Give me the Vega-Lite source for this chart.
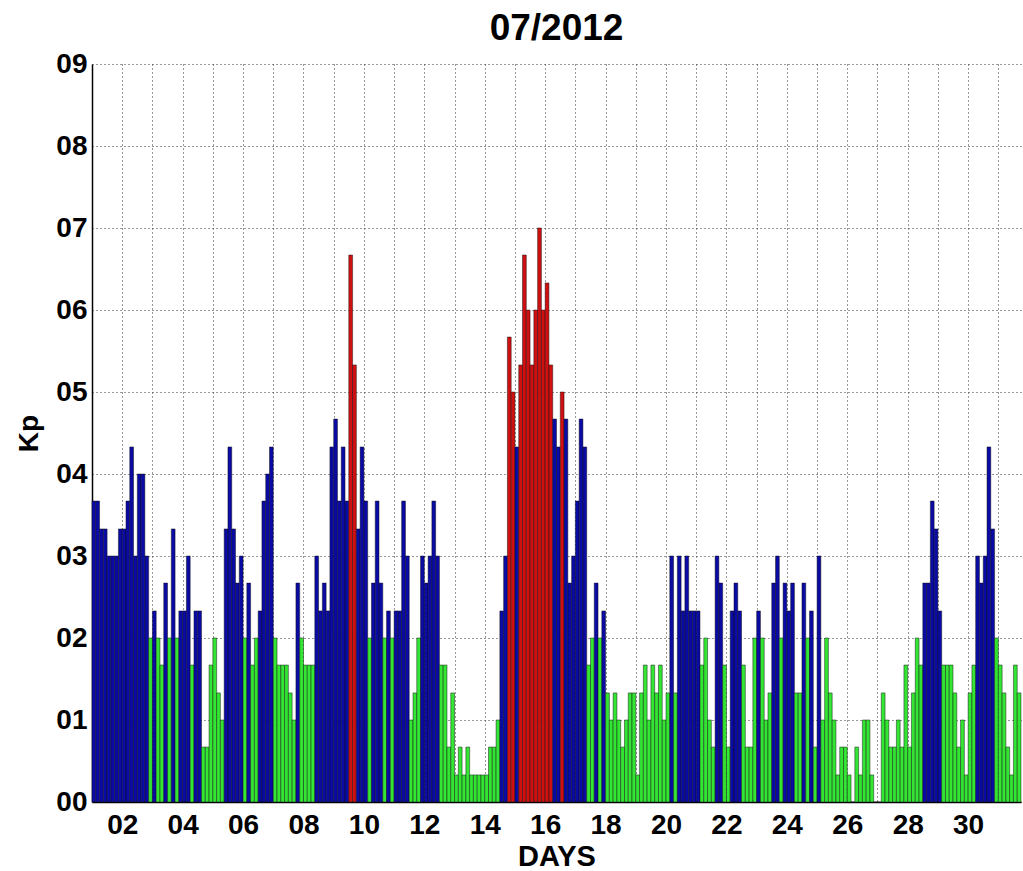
{
"$schema":"https://vega.github.io/schema/vega-lite/v6.json",
"width":929,"height":738,
"autosize":{"type":"none"},
"padding":{"left":92,"top":64,"right":2,"bottom":69},
"background":"white",
"title":{"text":"07/2012","font":"Liberation Sans","fontSize":37,"fontWeight":"bold","color":"#000","offset":2,"anchor":"middle"},
"data":{"values":[
{"t":1,"e":1.125,"kp":3.67},{"t":1.125,"e":1.25,"kp":3.67},{"t":1.25,"e":1.375,"kp":3.33},{"t":1.375,"e":1.5,"kp":3.33},{"t":1.5,"e":1.625,"kp":3},{"t":1.625,"e":1.75,"kp":3},{"t":1.75,"e":1.875,"kp":3},{"t":1.875,"e":2,"kp":3.33},
{"t":2,"e":2.125,"kp":3.33},{"t":2.125,"e":2.25,"kp":3.67},{"t":2.25,"e":2.375,"kp":4.33},{"t":2.375,"e":2.5,"kp":3},{"t":2.5,"e":2.625,"kp":4},{"t":2.625,"e":2.75,"kp":4},{"t":2.75,"e":2.875,"kp":3},{"t":2.875,"e":3,"kp":2},
{"t":3,"e":3.125,"kp":2.33},{"t":3.125,"e":3.25,"kp":2},{"t":3.25,"e":3.375,"kp":1.67},{"t":3.375,"e":3.5,"kp":2.67},{"t":3.5,"e":3.625,"kp":2},{"t":3.625,"e":3.75,"kp":3.33},{"t":3.75,"e":3.875,"kp":2},{"t":3.875,"e":4,"kp":2.33},
{"t":4,"e":4.125,"kp":2.33},{"t":4.125,"e":4.25,"kp":3},{"t":4.25,"e":4.375,"kp":1.67},{"t":4.375,"e":4.5,"kp":2.33},{"t":4.5,"e":4.625,"kp":2.33},{"t":4.625,"e":4.75,"kp":0.67},{"t":4.75,"e":4.875,"kp":0.67},{"t":4.875,"e":5,"kp":1.67},
{"t":5,"e":5.125,"kp":2},{"t":5.125,"e":5.25,"kp":1.33},{"t":5.25,"e":5.375,"kp":1},{"t":5.375,"e":5.5,"kp":3.33},{"t":5.5,"e":5.625,"kp":4.33},{"t":5.625,"e":5.75,"kp":3.33},{"t":5.75,"e":5.875,"kp":2.67},{"t":5.875,"e":6,"kp":3},
{"t":6,"e":6.125,"kp":2},{"t":6.125,"e":6.25,"kp":2.67},{"t":6.25,"e":6.375,"kp":1.67},{"t":6.375,"e":6.5,"kp":2},{"t":6.5,"e":6.625,"kp":2.33},{"t":6.625,"e":6.75,"kp":3.67},{"t":6.75,"e":6.875,"kp":4},{"t":6.875,"e":7,"kp":4.33},
{"t":7,"e":7.125,"kp":2},{"t":7.125,"e":7.25,"kp":1.67},{"t":7.25,"e":7.375,"kp":1.67},{"t":7.375,"e":7.5,"kp":1.67},{"t":7.5,"e":7.625,"kp":1.33},{"t":7.625,"e":7.75,"kp":1},{"t":7.75,"e":7.875,"kp":2.67},{"t":7.875,"e":8,"kp":2},
{"t":8,"e":8.125,"kp":1.67},{"t":8.125,"e":8.25,"kp":1.67},{"t":8.25,"e":8.375,"kp":1.67},{"t":8.375,"e":8.5,"kp":3},{"t":8.5,"e":8.625,"kp":2.33},{"t":8.625,"e":8.75,"kp":2.67},{"t":8.75,"e":8.875,"kp":2.33},{"t":8.875,"e":9,"kp":4.33},
{"t":9,"e":9.125,"kp":4.67},{"t":9.125,"e":9.25,"kp":3.67},{"t":9.25,"e":9.375,"kp":4.33},{"t":9.375,"e":9.5,"kp":3.67},{"t":9.5,"e":9.625,"kp":6.67},{"t":9.625,"e":9.75,"kp":5.33},{"t":9.75,"e":9.875,"kp":3.33},{"t":9.875,"e":10,"kp":4.33},
{"t":10,"e":10.125,"kp":3.67},{"t":10.125,"e":10.25,"kp":2},{"t":10.25,"e":10.375,"kp":2.67},{"t":10.375,"e":10.5,"kp":3.67},{"t":10.5,"e":10.625,"kp":2.67},{"t":10.625,"e":10.75,"kp":2},{"t":10.75,"e":10.875,"kp":2.33},{"t":10.875,"e":11,"kp":2},
{"t":11,"e":11.125,"kp":2.33},{"t":11.125,"e":11.25,"kp":2.33},{"t":11.25,"e":11.375,"kp":3.67},{"t":11.375,"e":11.5,"kp":3},{"t":11.5,"e":11.625,"kp":1},{"t":11.625,"e":11.75,"kp":1.33},{"t":11.75,"e":11.875,"kp":2},{"t":11.875,"e":12,"kp":3},
{"t":12,"e":12.125,"kp":2.67},{"t":12.125,"e":12.25,"kp":3},{"t":12.25,"e":12.375,"kp":3.67},{"t":12.375,"e":12.5,"kp":3},{"t":12.5,"e":12.625,"kp":1.67},{"t":12.625,"e":12.75,"kp":1.67},{"t":12.75,"e":12.875,"kp":0.67},{"t":12.875,"e":13,"kp":1.33},
{"t":13,"e":13.125,"kp":0.33},{"t":13.125,"e":13.25,"kp":0.67},{"t":13.25,"e":13.375,"kp":0.33},{"t":13.375,"e":13.5,"kp":0.67},{"t":13.5,"e":13.625,"kp":0.33},{"t":13.625,"e":13.75,"kp":0.33},{"t":13.75,"e":13.875,"kp":0.33},{"t":13.875,"e":14,"kp":0.33},
{"t":14,"e":14.125,"kp":0.33},{"t":14.125,"e":14.25,"kp":0.67},{"t":14.25,"e":14.375,"kp":0.67},{"t":14.375,"e":14.5,"kp":1},{"t":14.5,"e":14.625,"kp":2.33},{"t":14.625,"e":14.75,"kp":3},{"t":14.75,"e":14.875,"kp":5.67},{"t":14.875,"e":15,"kp":5},
{"t":15,"e":15.125,"kp":4.33},{"t":15.125,"e":15.25,"kp":5.33},{"t":15.25,"e":15.375,"kp":6.67},{"t":15.375,"e":15.5,"kp":6},{"t":15.5,"e":15.625,"kp":5.33},{"t":15.625,"e":15.75,"kp":6},{"t":15.75,"e":15.875,"kp":7},{"t":15.875,"e":16,"kp":6},
{"t":16,"e":16.125,"kp":6.33},{"t":16.125,"e":16.25,"kp":5.33},{"t":16.25,"e":16.375,"kp":4.67},{"t":16.375,"e":16.5,"kp":4.33},{"t":16.5,"e":16.625,"kp":5},{"t":16.625,"e":16.75,"kp":4.67},{"t":16.75,"e":16.875,"kp":2.67},{"t":16.875,"e":17,"kp":3},
{"t":17,"e":17.125,"kp":3.67},{"t":17.125,"e":17.25,"kp":4.67},{"t":17.25,"e":17.375,"kp":4.33},{"t":17.375,"e":17.5,"kp":1.67},{"t":17.5,"e":17.625,"kp":2},{"t":17.625,"e":17.75,"kp":2.67},{"t":17.75,"e":17.875,"kp":2},{"t":17.875,"e":18,"kp":2.33},
{"t":18,"e":18.125,"kp":1.33},{"t":18.125,"e":18.25,"kp":1},{"t":18.25,"e":18.375,"kp":1.33},{"t":18.375,"e":18.5,"kp":1},{"t":18.5,"e":18.625,"kp":0.67},{"t":18.625,"e":18.75,"kp":1},{"t":18.75,"e":18.875,"kp":1.33},{"t":18.875,"e":19,"kp":1.33},
{"t":19,"e":19.125,"kp":0.33},{"t":19.125,"e":19.25,"kp":1.33},{"t":19.25,"e":19.375,"kp":1.67},{"t":19.375,"e":19.5,"kp":1},{"t":19.5,"e":19.625,"kp":1.67},{"t":19.625,"e":19.75,"kp":1.33},{"t":19.75,"e":19.875,"kp":1.67},{"t":19.875,"e":20,"kp":1},
{"t":20,"e":20.125,"kp":1.33},{"t":20.125,"e":20.25,"kp":3},{"t":20.25,"e":20.375,"kp":1.33},{"t":20.375,"e":20.5,"kp":3},{"t":20.5,"e":20.625,"kp":2.33},{"t":20.625,"e":20.75,"kp":3},{"t":20.75,"e":20.875,"kp":2.33},{"t":20.875,"e":21,"kp":2.33},
{"t":21,"e":21.125,"kp":2.33},{"t":21.125,"e":21.25,"kp":1.67},{"t":21.25,"e":21.375,"kp":2},{"t":21.375,"e":21.5,"kp":1},{"t":21.5,"e":21.625,"kp":0.67},{"t":21.625,"e":21.75,"kp":3},{"t":21.75,"e":21.875,"kp":2.67},{"t":21.875,"e":22,"kp":1.67},
{"t":22,"e":22.125,"kp":0.67},{"t":22.125,"e":22.25,"kp":2.33},{"t":22.25,"e":22.375,"kp":2.67},{"t":22.375,"e":22.5,"kp":2.33},{"t":22.5,"e":22.625,"kp":1.67},{"t":22.625,"e":22.75,"kp":0.67},{"t":22.75,"e":22.875,"kp":0.67},{"t":22.875,"e":23,"kp":2},
{"t":23,"e":23.125,"kp":2.33},{"t":23.125,"e":23.25,"kp":2},{"t":23.25,"e":23.375,"kp":1},{"t":23.375,"e":23.5,"kp":1.33},{"t":23.5,"e":23.625,"kp":2.67},{"t":23.625,"e":23.75,"kp":3},{"t":23.75,"e":23.875,"kp":2},{"t":23.875,"e":24,"kp":2.67},
{"t":24,"e":24.125,"kp":2.33},{"t":24.125,"e":24.25,"kp":2.67},{"t":24.25,"e":24.375,"kp":1.33},{"t":24.375,"e":24.5,"kp":1.33},{"t":24.5,"e":24.625,"kp":2.67},{"t":24.625,"e":24.75,"kp":2},{"t":24.75,"e":24.875,"kp":2.33},{"t":24.875,"e":25,"kp":0.67},
{"t":25,"e":25.125,"kp":3},{"t":25.125,"e":25.25,"kp":1},{"t":25.25,"e":25.375,"kp":2},{"t":25.375,"e":25.5,"kp":1.33},{"t":25.5,"e":25.625,"kp":1},{"t":25.625,"e":25.75,"kp":0.33},{"t":25.75,"e":25.875,"kp":0.67},{"t":25.875,"e":26,"kp":0.67},
{"t":26,"e":26.125,"kp":0.33},{"t":26.125,"e":26.25,"kp":0},{"t":26.25,"e":26.375,"kp":0.67},{"t":26.375,"e":26.5,"kp":0.33},{"t":26.5,"e":26.625,"kp":1},{"t":26.625,"e":26.75,"kp":1},{"t":26.75,"e":26.875,"kp":0.33},{"t":26.875,"e":27,"kp":0},
{"t":27,"e":27.125,"kp":0},{"t":27.125,"e":27.25,"kp":1.33},{"t":27.25,"e":27.375,"kp":1},{"t":27.375,"e":27.5,"kp":0.67},{"t":27.5,"e":27.625,"kp":0.67},{"t":27.625,"e":27.75,"kp":1},{"t":27.75,"e":27.875,"kp":0.67},{"t":27.875,"e":28,"kp":1.67},
{"t":28,"e":28.125,"kp":0.67},{"t":28.125,"e":28.25,"kp":1.33},{"t":28.25,"e":28.375,"kp":2},{"t":28.375,"e":28.5,"kp":1.67},{"t":28.5,"e":28.625,"kp":2.67},{"t":28.625,"e":28.75,"kp":2.67},{"t":28.75,"e":28.875,"kp":3.67},{"t":28.875,"e":29,"kp":3.33},
{"t":29,"e":29.125,"kp":2.33},{"t":29.125,"e":29.25,"kp":1.67},{"t":29.25,"e":29.375,"kp":1.67},{"t":29.375,"e":29.5,"kp":1.67},{"t":29.5,"e":29.625,"kp":1.33},{"t":29.625,"e":29.75,"kp":0.67},{"t":29.75,"e":29.875,"kp":1},{"t":29.875,"e":30,"kp":0.33},
{"t":30,"e":30.125,"kp":1.33},{"t":30.125,"e":30.25,"kp":1.67},{"t":30.25,"e":30.375,"kp":3},{"t":30.375,"e":30.5,"kp":2.67},{"t":30.5,"e":30.625,"kp":3},{"t":30.625,"e":30.75,"kp":4.33},{"t":30.75,"e":30.875,"kp":3.33},{"t":30.875,"e":31,"kp":2},
{"t":31,"e":31.125,"kp":1.67},{"t":31.125,"e":31.25,"kp":1.33},{"t":31.25,"e":31.375,"kp":0.67},{"t":31.375,"e":31.5,"kp":0.33},{"t":31.5,"e":31.625,"kp":1.67},{"t":31.625,"e":31.75,"kp":1.33}
]},
"mark":{"type":"bar","stroke":"#111","strokeWidth":0.6,"strokeOpacity":0.8},
"encoding":{
"x":{"field":"t","type":"quantitative","scale":{"domain":[1,31.75],"nice":false,"zero":false},
"axis":{"values":[2,3,4,5,6,7,8,9,10,11,12,13,14,15,16,17,18,19,20,21,22,23,24,25,26,27,28,29,30,31],"format":"02d","labelExpr":"datum.value % 2 == 0 ? datum.label : ''","labelOverlap":false,"labelFlush":false,"grid":true,"gridDash":[1,3],"gridColor":"#333","gridWidth":1,"ticks":false,"domainColor":"#000","domainWidth":1.5,"labelFont":"Liberation Sans","labelFontWeight":"bold","labelFontSize":28,"labelColor":"#000","labelPadding":9,"title":"DAYS","titleFont":"Liberation Sans","titleFontWeight":"bold","titleFontSize":29,"titleColor":"#000","titlePadding":3}},
"x2":{"field":"e"},
"y":{"field":"kp","type":"quantitative","scale":{"domain":[0,9],"nice":false},
"axis":{"values":[0,1,2,3,4,5,6,7,8,9],"format":"02d","grid":true,"gridDash":[1,3],"gridColor":"#333","gridWidth":1,"ticks":false,"domainColor":"#000","domainWidth":1.5,"labelFont":"Liberation Sans","labelFontWeight":"bold","labelFontSize":28,"labelColor":"#000","labelPadding":5,"title":"Kp","titleFont":"Liberation Sans","titleFontWeight":"bold","titleFontSize":28,"titleColor":"#000","titlePadding":12}},
"y2":{"datum":0},
"fill":{"condition":[{"test":"datum.kp >= 5","value":"#d01010"},{"test":"datum.kp > 2.1","value":"#0a0aa5"}],"value":"#33e633"}
},
"config":{"view":{"stroke":null}}
}
